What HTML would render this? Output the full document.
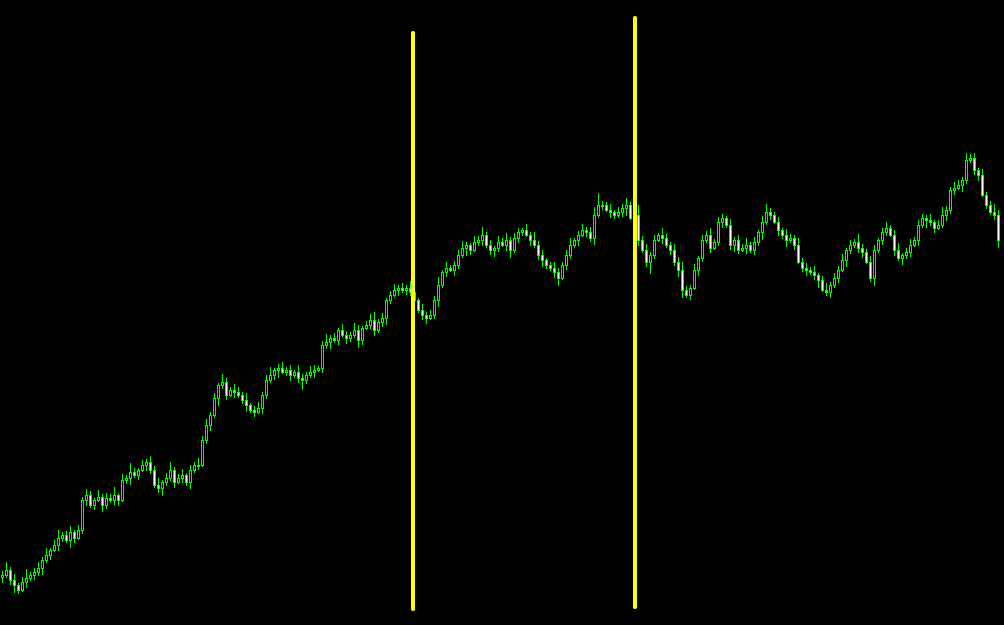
<!DOCTYPE html>
<html><head><meta charset="utf-8">
<style>
html,body{margin:0;padding:0;background:#000;width:1004px;height:625px;overflow:hidden}
svg{display:block}
</style></head>
<body>
<svg id="chart" width="1004" height="625" viewBox="0 0 1004 625" shape-rendering="crispEdges">
<rect x="0" y="0" width="1004" height="625" fill="#000"/>
<g id="candles"></g>
<line x1="413" y1="33" x2="413" y2="609" stroke="#ffff00" stroke-width="4" stroke-linecap="round" shape-rendering="auto"/>
<line x1="635" y1="18" x2="635" y2="607" stroke="#ffff00" stroke-width="4" stroke-linecap="round" shape-rendering="auto"/>
</svg>
<script>
const closes = [50,55,45,40,35,43,47,50,53,57,
65,70,75,80,87,90,85,93,87,95,
125,130,120,125,128,120,127,125,130,125,
145,147,153,150,155,160,163,155,140,137,
143,147,155,143,147,150,143,155,160,160,
185,200,210,227,240,243,230,235,233,230,
225,220,215,213,217,230,245,250,255,257,
253,255,250,253,247,245,250,253,255,257,
280,283,287,285,295,290,287,290,295,285,
297,300,305,295,303,307,325,330,335,337,
335,337,333,325,315,310,307,310,325,340,
353,357,355,360,370,377,380,375,383,385,
390,380,375,377,383,380,385,375,387,393,
395,390,385,380,370,365,360,357,353,347,
360,370,380,385,390,395,393,387,410,420,
420,415,413,410,413,417,420,407,410,385,
375,363,370,385,390,387,380,375,363,355,
335,330,337,355,367,385,390,377,383,403,
407,400,380,385,375,377,380,375,383,393,
403,413,410,403,395,390,385,387,380,363,
357,355,353,350,345,335,333,340,347,355,
365,375,380,383,377,373,363,347,375,385,
393,397,390,375,367,370,373,380,385,400,
407,405,403,397,400,410,415,435,437,440,
445,465,467,455,450,430,420,413,410,385];
const wickUp = [4,8,3,6,2,5,9,3,4,6,3,7,2,5,8,3,4,6,2,5,
3,6,4,2,7,3,5,4,8,2,6,3,9,4,2,5,3,6,4,7,
2,5,8,3,4,6,2,5,3,7,4,6,3,5,2,8,4,3,6,5,
3,7,2,4,6,3,5,8,2,4,6,3,5,2,7,4,3,6,5,2,
4,8,3,5,2,6,4,3,7,5,2,4,6,8,3,5,2,4,6,3,
5,3,7,4,2,6,3,5,4,8,2,6,3,4,5,7,3,2,6,4,
8,3,5,2,6,4,7,3,5,4,2,6,3,8,4,5,2,3,6,4,
3,5,7,2,4,6,3,5,8,12,4,3,6,2,5,4,7,3,5,10,
4,6,3,5,2,7,4,3,6,5,8,4,3,6,2,5,4,7,3,5,
4,2,6,3,5,4,7,3,5,2,6,8,4,3,5,2,6,4,3,7,
4,5,3,6,2,4,7,3,5,4,6,2,5,3,8,4,3,6,5,2,
4,6,3,5,7,2,4,6,3,5,4,3,6,2,5,8,4,3,6,5,
3,7,4,5,2,6,3,4,8,5];
const wickDn = [6,3,5,8,4,2,6,3,5,4,7,3,5,2,6,4,3,8,5,2,
4,6,3,5,2,7,4,3,5,6,2,4,7,3,5,2,6,4,3,5,
8,4,3,6,2,5,4,7,3,5,2,4,6,3,8,4,5,2,6,3,
4,7,3,5,2,6,4,3,5,8,2,4,6,3,5,10,4,3,6,2,
5,4,7,3,5,2,6,4,3,8,5,2,4,6,3,5,7,4,2,6,
3,5,4,8,3,5,6,2,4,7,3,5,2,6,4,3,8,5,2,4,
6,3,5,7,4,2,6,8,3,5,4,2,6,3,5,7,4,3,6,8,
2,5,4,3,6,2,5,4,7,3,5,2,6,4,3,5,8,2,4,6,
3,5,12,4,2,6,3,5,4,7,8,3,5,2,6,4,3,5,2,4,
6,3,5,7,4,2,6,3,5,4,8,3,5,2,6,4,7,3,5,2,
4,6,3,5,8,2,4,6,3,5,2,7,4,3,5,6,2,4,8,3,
5,4,2,6,3,7,4,5,2,6,3,8,4,5,2,3,6,4,5,2,
7,4,3,5,6,2,4,3,5,8];
const firstOpen = 48;

const NS = 'http://www.w3.org/2000/svg';
const g = document.getElementById('candles');
const xOf = i => 2 + i * 4;
const yOf = p => 625 - p;
for (let i = 0; i < closes.length; i++) {
  const o = i === 0 ? firstOpen : closes[i - 1];
  const c = closes[i];
  const top = Math.max(o, c), bot = Math.min(o, c);
  const hi = top + wickUp[i], lo = bot - wickDn[i];
  const x = xOf(i);
  const w = document.createElementNS(NS, 'line');
  
  
  w.setAttribute('x1', x + 0.5); w.setAttribute('x2', x + 0.5);
  w.setAttribute('y1', yOf(hi)); w.setAttribute('y2', yOf(lo));
  w.setAttribute('stroke', '#00ff00'); w.setAttribute('stroke-width', 1);
  g.appendChild(w);
  const r = document.createElementNS(NS, 'rect');
  
  
  r.setAttribute('x', x - 0.5);
  r.setAttribute('y', yOf(top) + 0.5);
  r.setAttribute('width', 2);
  r.setAttribute('height', Math.max(top - bot, 1));
  r.setAttribute('fill', c > o ? '#000' : '#ffffff');
  r.setAttribute('stroke', '#00ff00'); r.setAttribute('stroke-width', 1);
  g.appendChild(r);
}
</script>
</body></html>
